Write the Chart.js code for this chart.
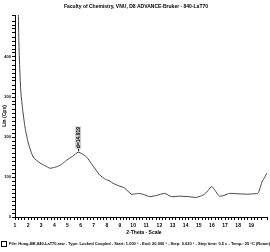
<!DOCTYPE html>
<html>
<head>
<meta charset="utf-8">
<script src="https://cdn.jsdelivr.net/npm/chart.js@4/dist/chart.umd.min.js"></script>
<style>
  html, body { margin: 0; padding: 0; background: #fff; }
  #xrd { display: block; }
</style>
</head>
<body>
<canvas id="xrd" width="270" height="252"></canvas>
<script>
// 2-Theta positions
var twoTheta = [1.15, 1.25, 1.3, 1.38, 1.45, 1.59, 1.76, 2.01, 2.39, 2.9, 3.3, 3.66, 4.0, 4.29, 4.6, 4.93, 5.4, 5.81, 6.1, 6.45, 6.9, 7.33, 7.46, 7.9, 8.22, 8.47, 9.0, 9.36, 9.87, 10.2, 10.5, 10.9, 11.26, 11.8, 12.4, 12.91, 13.5, 14.17, 14.81, 15.2, 15.44, 15.75, 15.99, 16.25, 16.58, 17.0, 17.34, 18.0, 18.73, 19.1, 19.49, 19.65, 19.82, 20.0, 20.2];
// Lin (Cps)
var counts = [700, 520, 430, 355, 310, 267, 225, 185, 150, 135, 128, 122, 124, 127, 133, 142, 152, 162, 158, 150, 130, 110, 105, 94, 90, 84, 77, 72, 57, 58, 59, 55, 51, 54, 59, 51, 52, 51, 49, 53, 57, 68, 76, 66, 52, 55, 59, 58, 57, 58, 59, 70, 88, 98, 110];

var yLabels = [0, 100, 200, 300, 400, 500];
var peakPos = [5.81];
var peakVal = [162];
var peakText = ['d=14.919'];

var titleText = 'Faculty of Chemistry, VNU, D8 ADVANCE-Bruker - 840-LaT70';
var xTitle = '2-Theta - Scale';
var yTitle = 'Lin (Cps)';
var footText = 'File: Hung-BK-840-LaT70.raw - Type: Locked Coupled - Start: 1.000 ° - End: 20.000 ° - Step: 0.020 ° - Step time: 0.5 s - Temp.: 25 °C (Room) - Time Started: 16 s - 2-Theta: 1.000 ° - Theta: 0.500 °';

var pts = twoTheta.map(function (t, i) { return { x: t, y: counts[i] }; });

var textPlugin = {
    id: 'xrdText',
    afterDraw: function (chart) {
        var ctx = chart.ctx;
        var xs = chart.scales.x, ys = chart.scales.y;
        ctx.save();
        ctx.fillStyle = '#000';
        ctx.textBaseline = 'middle';

        // title
        ctx.font = 'bold 5px "Liberation Sans"';
        ctx.textAlign = 'center';
        ctx.fillText(titleText, 136, 7);

        // axis titles
        ctx.fillText(xTitle, 144, 233);
        ctx.save();
        ctx.translate(5, 116);
        ctx.rotate(-Math.PI / 2);
        ctx.fillText(yTitle, 0, 0);
        ctx.restore();

        // footer
        ctx.strokeStyle = '#000';
        ctx.lineWidth = 1;
        ctx.strokeRect(1.5, 241.5, 5, 5);
        ctx.font = 'bold 4px "Liberation Sans"';
        ctx.textAlign = 'left';
        ctx.fillText(footText, 9, 244);

        // peak label
        peakPos.forEach(function (p, i) {
            var px = xs.getPixelForValue(p);
            var py = ys.getPixelForValue(peakVal[i]);
            ctx.beginPath();
            ctx.moveTo(px + 0.5, py - 1);
            ctx.lineTo(px + 0.5, py - 4);
            ctx.stroke();
            ctx.save();
            ctx.translate(px, py - 4);
            ctx.rotate(-Math.PI / 2);
            ctx.font = 'bold 5px "Liberation Sans"';
            ctx.textAlign = 'left';
            ctx.fillStyle = '#ccc';
            var w = ctx.measureText(peakText[i]).width;
            ctx.fillRect(-0.5, -3, w + 1, 6);
            ctx.fillStyle = '#000';
            ctx.fillText(peakText[i], 0, 0);
            ctx.restore();
        });
        ctx.restore();
    }
};

function isWhole(v) { return Math.abs(v - Math.round(v)) < 1e-6; }

new Chart(document.getElementById('xrd').getContext('2d'), {
    type: 'line',
    data: {
        datasets: [{
            data: pts,
            borderColor: '#444',
            borderWidth: 1,
            pointRadius: 0,
            tension: 0.2,
            fill: false
        }]
    },
    options: {
        responsive: false,
        animation: false,
        devicePixelRatio: 1,
        layout: { padding: { top: 15, right: 2, left: 0, bottom: 0 } },
        plugins: { legend: { display: false }, tooltip: { enabled: false } },
        scales: {
            x: {
                type: 'linear',
                min: 1,
                max: 20.2,
                afterFit: function (s) { s.height = 35; },
                border: { display: true, color: '#000', width: 1 },
                grid: { drawOnChartArea: false, drawTicks: true, tickLength: 3, color: '#000' },
                ticks: {
                    stepSize: 0.25,
                    autoSkip: false,
                    maxRotation: 0,
                    padding: 3,
                    color: '#000',
                    font: { family: 'Liberation Sans', size: 5, weight: 'bold' },
                    callback: function (v) { return isWhole(v) && v <= 20 ? String(Math.round(v)) : ''; }
                }
            },
            y: {
                min: 0,
                max: 505,
                afterFit: function (s) { s.width = 15; },
                border: { display: true, color: '#000', width: 1 },
                grid: { drawOnChartArea: false, drawTicks: true, tickLength: 3, color: '#000' },
                ticks: {
                    stepSize: 10,
                    autoSkip: false,
                    padding: 1,
                    color: '#000',
                    font: { family: 'Liberation Sans', size: 4, weight: 'bold' },
                    callback: function (v) { return yLabels.indexOf(v) >= 0 ? String(v) : ''; }
                }
            }
        }
    },
    plugins: [textPlugin]
});
</script>
</body>
</html>
